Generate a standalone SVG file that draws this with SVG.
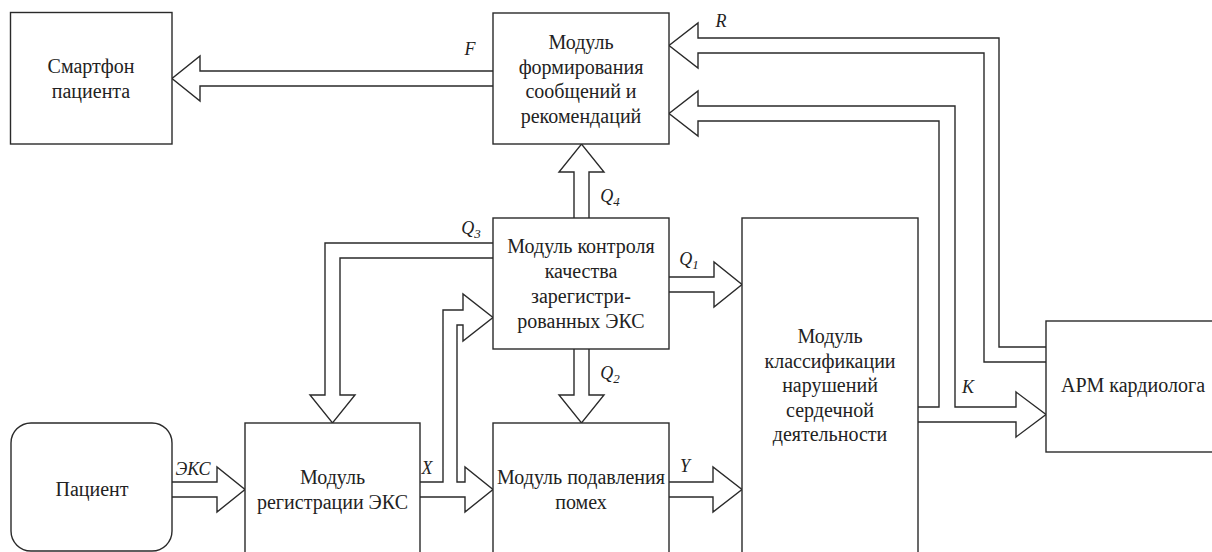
<svg xmlns="http://www.w3.org/2000/svg" width="1212" height="552" viewBox="0 0 1212 552">
<style>
.box{fill:#fff;stroke:#2a2a2a;stroke-width:1.4}
.arr{fill:#fff;stroke:#2a2a2a;stroke-width:1.4;stroke-linejoin:miter}
.t{font-family:'Liberation Serif','Liberation Sans',serif;font-size:20px;fill:#222;text-anchor:middle}
.l{font-family:'Liberation Serif','Liberation Sans',serif;font-size:18px;font-style:italic;fill:#222;text-anchor:middle}
.s{font-size:13px}
</style>
<rect width="1212" height="552" fill="#fff"/>
<g id="connectors">
<path class="arr" d="M493,71 H200 V56 L172,78.5 L200,101 V86 H493"/>
<path class="arr" d="M1046,347 H999 V38 H698 V23 L669,45.5 L698,68 V53 H984 V362 H1046"/>
<path class="arr" d="M918,407 H939 V121 H698 V136 L669,113.5 L698,91 V106 H955 V407 H1016 V392 L1046,414.5 L1016,437 V422 H918"/>
<path class="arr" d="M574,218 V172 H559 L581.5,144 L604,172 H589 V218"/>
<path class="arr" d="M493,243 H325 V395 H310 L332.5,423 L355,395 H340 V258 H493"/>
<path class="arr" d="M669,277 H714 V262 L742,284.5 L714,307 V292 H669"/>
<path class="arr" d="M574,349 V395 H559 L581.5,423 L604,395 H589 V349"/>
<path class="arr" d="M420,482 H443 V310 H463 V294 L493,317.5 L463,341 V325 H457 V482 H465 V467 L493,489.5 L465,512 V497 H420"/>
<path class="arr" d="M172,482 H217 V467 L245,489.5 L217,512 V497 H172"/>
<path class="arr" d="M669,482 H713 V467 L742,489.5 L713,512 V497 H669"/>
<text class="l" x="470" y="55">F</text>
<text class="l" x="721" y="27">R</text>
<text class="l" x="968" y="393">K</text>
<text class="l" x="193" y="475">ЭКС</text>
<text class="l" x="427" y="474">X</text>
<text class="l" x="685" y="472">Y</text>
<text class="l" x="689" y="265">Q<tspan class="s" dy="4">1</tspan></text>
<text class="l" x="610" y="379">Q<tspan class="s" dy="4">2</tspan></text>
<text class="l" x="471" y="234">Q<tspan class="s" dy="4">3</tspan></text>
<text class="l" x="610" y="202">Q<tspan class="s" dy="4">4</tspan></text>
</g>
<g id="smartphone">
<rect class="box" x="10.5" y="12.5" width="161.5" height="131.5"/>
<text class="t" x="91" y="73">Смартфон</text>
<text class="t" x="91" y="97.5">пациента</text>
</g>
<g id="messages">
<rect class="box" x="493" y="13" width="176" height="131"/>
<text class="t" x="581" y="49">Модуль</text>
<text class="t" x="581" y="73.5">формирования</text>
<text class="t" x="581" y="98">сообщений и</text>
<text class="t" x="581" y="122.5">рекомендаций</text>
</g>
<g id="quality">
<rect class="box" x="493" y="218" width="176" height="131"/>
<text class="t" x="581" y="253">Модуль контроля</text>
<text class="t" x="581" y="278">качества</text>
<text class="t" x="581" y="303">зарегистри-</text>
<text class="t" x="581" y="328">рованных ЭКС</text>
</g>
<g id="classification">
<rect class="box" x="742" y="218" width="176" height="345"/>
<text class="t" x="830" y="343">Модуль</text>
<text class="t" x="830" y="367.5">классификации</text>
<text class="t" x="830" y="392">нарушений</text>
<text class="t" x="830" y="416.5">сердечной</text>
<text class="t" x="830" y="441">деятельности</text>
</g>
<g id="cardiologist">
<rect class="box" x="1046" y="321" width="180" height="131"/>
<text class="t" x="1133" y="392">АРМ кардиолога</text>
</g>
<g id="patient">
<rect class="box" x="11" y="423" width="161" height="128" rx="20" ry="20"/>
<text class="t" x="92" y="496">Пациент</text>
</g>
<g id="registration">
<rect class="box" x="245" y="423" width="175" height="140"/>
<text class="t" x="332.5" y="484">Модуль</text>
<text class="t" x="332.5" y="509">регистрации ЭКС</text>
</g>
<g id="noise">
<rect class="box" x="493" y="423" width="176" height="140"/>
<text class="t" x="581" y="484">Модуль подавления</text>
<text class="t" x="581" y="509">помех</text>
</g>
</svg>
